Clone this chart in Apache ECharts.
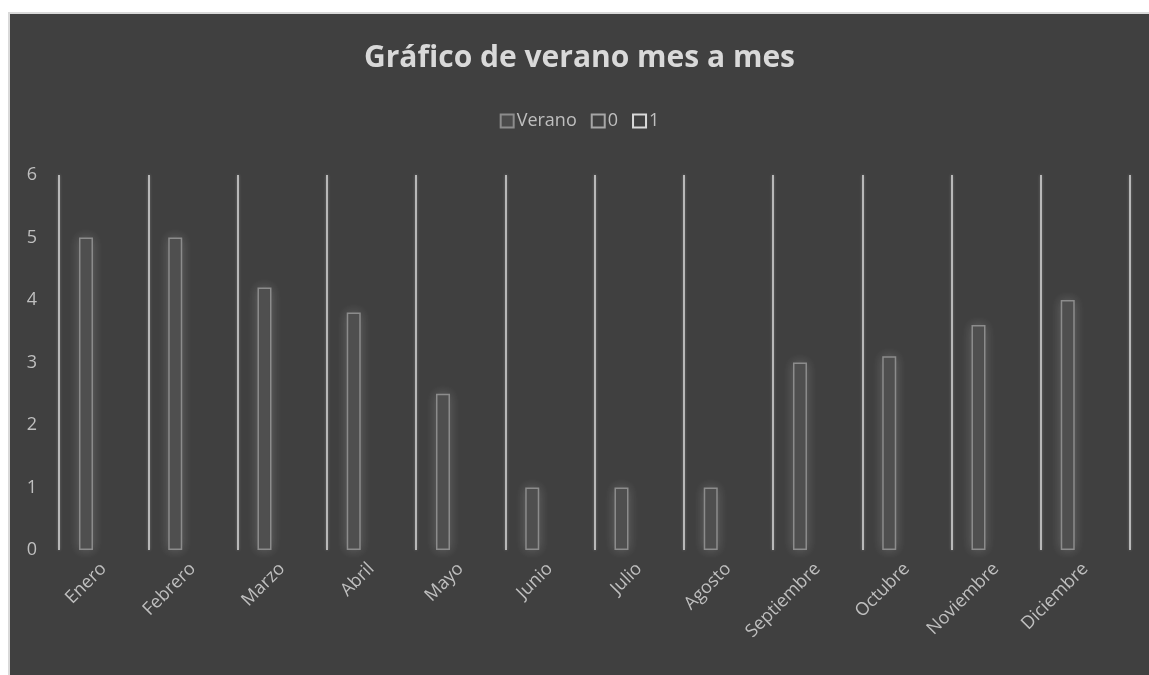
<!DOCTYPE html>
<html>
<head>
<meta charset="utf-8">
<script src="https://cdn.jsdelivr.net/npm/echarts@6/dist/echarts.min.js"></script>
<style>
	html, body { margin: 0; padding: 0; background: #ffffff; }
	#myChart {
		position: absolute; left: 8px; top: 12px;
		width: 1141px; height: 663px;
		background: #404040;
		border-left: 2px solid #d9d9d9; border-top: 2px solid #d9d9d9;
		box-sizing: border-box;
	}
</style>
</head>
<body>
<div id="myChart"></div>
<script>
	// categorias y valores
	var meses = ['Enero', 'Febrero', 'Marzo', 'Abril', 'Mayo', 'Junio', 'Julio', 'Agosto',
		'Septiembre', 'Octubre', 'Noviembre', 'Diciembre'];
	var verano = [5, 5, 4.2, 3.8, 2.5, 1, 1, 1, 3, 3.1, 3.6, 4];
	var serie0 = ['-', '-', '-', '-', '-', '-', '-', '-', '-', '-', '-', '-'];
	var serie1 = ['-', '-', '-', '-', '-', '-', '-', '-', '-', '-', '-', '-'];
	var yTicks = [0, 1, 2, 3, 4, 5, 6];

	var fuente = 'Open Sans';
	var myChart = echarts.init(document.getElementById('myChart'));
	myChart.setOption({
		backgroundColor: '#404040',
		title: {
			text: 'Gráfico de verano mes a mes',
			left: 'center',
			top: 24,
			textStyle: { color: '#d9d9d9', fontSize: 30, fontWeight: 'bold', fontFamily: fuente }
		},
		legend: {
			data: ['Verano', '0', '1'],
			top: 93,
			left: 'center',
			icon: 'rect',
			itemWidth: 13,
			itemHeight: 13,
			itemGap: 14,
			textStyle: { color: '#bfbfbf', fontSize: 18, fontFamily: fuente, padding: [0, 0, 0, -2] }
		},
		grid: { left: 49, right: 19, top: 161, bottom: 125 },
		xAxis: [{
			type: 'category',
			data: meses,
			boundaryGap: true,
			axisLine: { show: false },
			axisTick: { show: false },
			splitLine: { show: true, lineStyle: { color: '#b8b8b8', width: 2, shadowColor: 'rgba(255,255,255,0.25)', shadowBlur: 3 } },
			axisLabel: { color: '#bfbfbf', fontSize: 18, fontFamily: fuente, rotate: 45, margin: 16, interval: 0 }
		}],
		yAxis: [{
			type: 'value',
			min: yTicks[0],
			max: yTicks[yTicks.length - 1],
			interval: 1,
			splitLine: { show: false },
			axisLine: { show: false },
			axisLabel: { color: '#bfbfbf', fontSize: 18, fontFamily: fuente, margin: 22 }
		}],
		series: [{
			name: 'Verano',
			type: 'bar',
			data: verano,
			barWidth: 14,
			barGap: '26%',
			itemStyle: {
				color: '#4b4b4b',
				borderColor: '#8c8c8c',
				borderWidth: 1.5,
				shadowColor: 'rgba(255,255,255,0.2)',
				shadowBlur: 12
			}
		}, {
			name: '0',
			type: 'bar',
			data: serie0,
			barWidth: 14,
			itemStyle: { color: '#404040', borderColor: '#a6a6a6', borderWidth: 1.5 }
		}, {
			name: '1',
			type: 'bar',
			data: serie1,
			barWidth: 14,
			itemStyle: { color: '#404040', borderColor: '#d9d9d9', borderWidth: 1.5 }
		}]
	});
</script>
</body>
</html>
